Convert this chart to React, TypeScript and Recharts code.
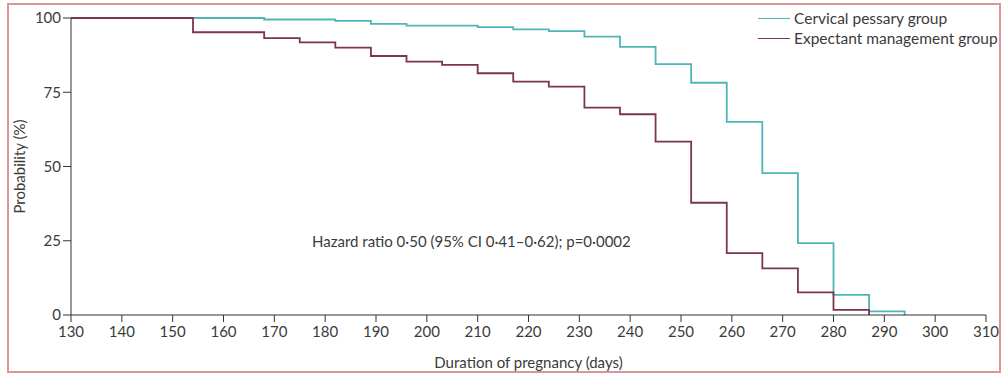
import React from "react";
import { LineChart, Line, XAxis, YAxis, Customized } from "recharts";

// Kaplan-Meier style survival curves, one entry per weekly step
const pessaryDays = [130, 168, 182, 189, 196, 210, 217, 224, 231, 238, 245, 252, 259, 266, 273, 280, 287, 294];
const pessaryProb = [100, 99.5, 99, 98, 97.4, 96.9, 96.2, 95.6, 93.7, 90.3, 84.5, 78.2, 65, 47.8, 24.2, 6.8, 1.2, 0];

const expectantDays = [130, 154, 168, 175, 182, 189, 196, 203, 210, 217, 224, 231, 238, 245, 252, 259, 266, 273, 280, 287];
const expectantProb = [100, 95.2, 93.2, 91.8, 90, 87.2, 85.3, 84.2, 81.4, 78.6, 76.9, 69.8, 67.6, 58.4, 37.8, 20.8, 15.7, 7.6, 1.7, 0];

const xTicks = [130, 140, 150, 160, 170, 180, 190, 200, 210, 220, 230, 240, 250, 260, 270, 280, 290, 300, 310];
const yTicks = [0, 25, 50, 75, 100];

const seriesNames = ["Cervical pessary group", "Expectant management group"];
const hazardNote = "Hazard ratio 0·50 (95% CI 0·41–0·62); p=0·0002";

const CYAN = "#4fb5b8";
const MAROON = "#7b3453";
const AXIS = "#333";
const TEXT = "#3b3b3b";
const FONT = "Lato, 'Open Sans', sans-serif";
const FS = 15;

const toPoints = (days: number[], probs: number[]) => days.map((day, i) => ({ day, p: probs[i] }));

const pessary = toPoints(pessaryDays, pessaryProb);
const expectant = toPoints(expectantDays, expectantProb);

// legend sits over the top-right corner of the plot, outside the chart layout
function LegendBox() {
  const colors = [CYAN, MAROON];
  return (
    <div
      style={{
        position: "absolute",
        top: 3,
        left: 749,
        fontFamily: FONT,
        fontSize: 15.5,
        color: TEXT,
        whiteSpace: "nowrap",
      }}
    >
      {seriesNames.map((name, i) => (
        <div key={name} style={{ display: "flex", alignItems: "center", height: 20 }}>
          <div style={{ width: 32, height: 0, borderTop: `1.6px solid ${colors[i]}`, marginRight: 4 }} />
          <span>{name}</span>
        </div>
      ))}
    </div>
  );
}

function YLabel(props: any) {
  const vb = props.viewBox || {};
  const cy = vb.y + vb.height / 2;
  return (
    <text
      x={10}
      y={cy}
      transform={`rotate(-90, 10, ${cy})`}
      textAnchor="middle"
      dominantBaseline="central"
      fill={TEXT}
      fontSize={FS}
      fontFamily={FONT}
    >
      Probability (%)
    </text>
  );
}

function XLabel(props: any) {
  const vb = props.viewBox || {};
  return (
    <text
      x={vb.x + vb.width / 2}
      y={363}
      textAnchor="middle"
      fill={TEXT}
      fontSize={FS}
      fontFamily={FONT}
    >
      Duration of pregnancy (days)
    </text>
  );
}

function HazardNote() {
  return (
    <text x={303} y={242} fill={TEXT} fontSize={FS} fontFamily={FONT}>
      {hazardNote}
    </text>
  );
}

export default function App() {
  return (
    <div
      style={{
        position: "absolute",
        left: 7,
        top: 3,
        width: 994,
        height: 370,
        boxSizing: "border-box",
        border: "2px solid #dc9499",
        background: "#fff",
      }}
    >
      <LineChart width={990} height={366} margin={{ top: 13, right: 13, left: 0, bottom: 0 }}>
        <XAxis
          type="number"
          dataKey="day"
          domain={[130, 310]}
          ticks={xTicks}
          allowDataOverflow
          height={56}
          stroke={AXIS}
          tickSize={7}
          tickMargin={4}
          tick={{ fill: TEXT, fontSize: FS, fontFamily: FONT }}
          label={<XLabel />}
        />
        <YAxis
          type="number"
          domain={[0, 100]}
          ticks={yTicks}
          width={62}
          stroke={AXIS}
          tickSize={8}
          tickMargin={2}
          tick={{ fill: TEXT, fontSize: FS, fontFamily: FONT }}
          label={<YLabel />}
        />
        <Line
          data={pessary}
          dataKey="p"
          name={seriesNames[0]}
          type="stepAfter"
          stroke={CYAN}
          strokeWidth={1.8}
          dot={false}
          isAnimationActive={false}
        />
        <Line
          data={expectant}
          dataKey="p"
          name={seriesNames[1]}
          type="stepAfter"
          stroke={MAROON}
          strokeWidth={1.8}
          dot={false}
          isAnimationActive={false}
        />
        <Customized component={HazardNote} />
      </LineChart>
      <LegendBox />
    </div>
  );
}
